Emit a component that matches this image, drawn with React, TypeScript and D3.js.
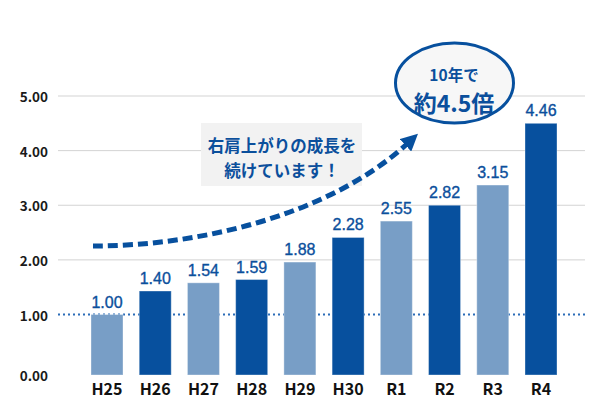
import React from "react";
import * as d3 from "d3";

const categories = ["H25", "H26", "H27", "H28", "H29", "H30", "R1", "R2", "R3", "R4"];
const valueLabels = ["1.00", "1.40", "1.54", "1.59", "1.88", "2.28", "2.55", "2.82", "3.15", "4.46"];
// bar heights as drawn in the picture (read against the axis)
const barHeights = [1.0, 1.43, 1.58, 1.64, 1.96, 2.41, 2.71, 3.0, 3.37, 4.5];
const barShades = ["light", "dark", "light", "dark", "light", "dark", "light", "dark", "light", "dark"];
const yTicks = [0, 1, 2, 3, 4, 5];
const calloutLines = ["右肩上がりの成長を", "続けています！"];
const bubbleLines = ["10年で", "約4.5倍"];

const DARK = "#07509e";
const LIGHT = "#789ec6";
const TEXT_BLUE = "#0b4f9c";

export default function App() {
  const W = 600;
  const H = 416;
  const x = d3.scalePoint<string>().domain(categories).range([107, 541]);
  const y = d3.scaleLinear().domain([0, 1, 5]).range([375, 314.5, 96]);
  const barW = 32;
  const gridX0 = 58;
  const gridX1 = 585;

  const arrowPath = d3.path();
  arrowPath.moveTo(93, 246);
  arrowPath.bezierCurveTo(200, 246, 330, 215, 408, 143);

  const cjk = "'Noto Sans CJK JP', 'Noto Sans', sans-serif";
  const arial = "'Liberation Sans', Arial, sans-serif";

  return (
    <svg width={W} height={H} style={{ position: "absolute", left: 0, top: 0, background: "#fff" }}>
      <defs>
        <marker id="ah" viewBox="0 0 10 10" refX="2" refY="5" markerWidth="3.4" markerHeight="3.4" orient="auto" markerUnits="strokeWidth">
          <path d="M0,0 L10,5 L0,10 z" fill={DARK} />
        </marker>
      </defs>
      {/* grid */}
      {yTicks.filter((t) => t >= 2).map((t) => (
        <line key={"g" + t} x1={gridX0} x2={gridX1} y1={y(t)} y2={y(t)} stroke="#d3d3d3" strokeWidth={1} />
      ))}
      <line x1={gridX0} x2={gridX1} y1={y(1)} y2={y(1)} stroke="#2b6cb8" strokeWidth={2} strokeDasharray="2 3" />
      {/* y tick labels */}
      {yTicks.map((t) => (
        <text key={"t" + t} x={48} y={y(t)} textAnchor="end" dominantBaseline="central" fontFamily={cjk} fontWeight={700} fontSize={13.5} fill="#1a1a1a">
          {t.toFixed(2)}
        </text>
      ))}
      {/* bars */}
      {categories.map((c, i) => (
        <rect key={"b" + c} x={(x(c) as number) - barW / 2} y={y(barHeights[i])} width={barW} height={y(0) - y(barHeights[i])} fill={barShades[i] === "dark" ? DARK : LIGHT} stroke="#ffffff" strokeOpacity={0.35} strokeWidth={1} />
      ))}
      {/* value labels */}
      {categories.map((c, i) => (
        <text key={"v" + c} x={x(c)} y={y(barHeights[i]) - 7} textAnchor="middle" fontFamily={arial} fontSize={16} fill={TEXT_BLUE} stroke={TEXT_BLUE} strokeWidth={0.35}>
          {valueLabels[i]}
        </text>
      ))}
      {/* x labels */}
      {categories.map((c) => (
        <text key={"x" + c} x={x(c)} y={395} textAnchor="middle" fontFamily={cjk} fontWeight={700} fontSize={16} fill="#111">
          {c}
        </text>
      ))}
      {/* callout box */}
      <rect x={201} y={123} width={161} height={63} fill="#f2f2f2" />
      {calloutLines.map((l, i) => (
        <text key={"c" + i} x={282} y={145 + i * 25} textAnchor="middle" dominantBaseline="central" fontFamily={cjk} fontWeight={700} fontSize={16.5} fill={TEXT_BLUE}>
          {l}
        </text>
      ))}
      {/* dashed arrow */}
      <path d={arrowPath.toString()} fill="none" stroke={DARK} strokeWidth={5} strokeDasharray="10 5" markerEnd="url(#ah)" />
      {/* bubble */}
      <ellipse cx={454.5} cy={83} rx={59} ry={40} fill="#f7f7f7" stroke={DARK} strokeWidth={3} />
      <text x={454} y={73.5} textAnchor="middle" dominantBaseline="central" fontFamily={cjk} fontWeight={700} fontSize={15.5} fill={TEXT_BLUE}>
        {bubbleLines[0]}
      </text>
      <text x={454} y={102} textAnchor="middle" dominantBaseline="central" fontFamily={cjk} fontWeight={700} fontSize={23} fill={TEXT_BLUE}>
        {bubbleLines[1]}
      </text>
    </svg>
  );
}
